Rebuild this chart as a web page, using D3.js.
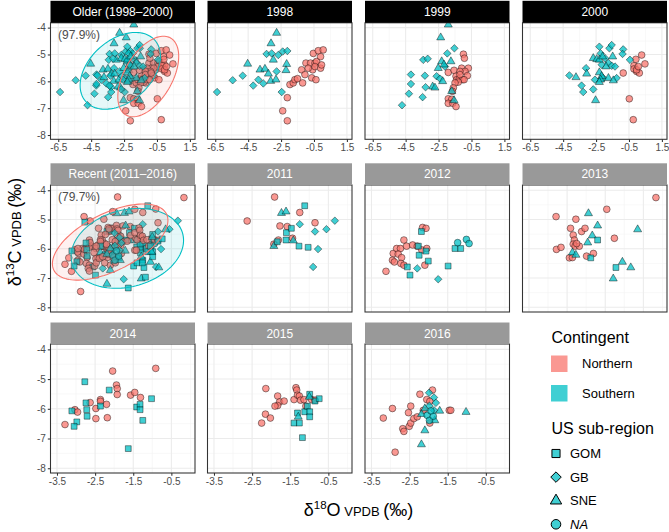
<!DOCTYPE html>
<html>
<head>
<meta charset="utf-8">
<script src="https://cdn.jsdelivr.net/npm/d3@7"></script>
<style>
  body { margin: 0; background: #fff; }
  text { font-family: "Liberation Sans", Arial, sans-serif; }
</style>
</head>
<body>
<svg id="chart" width="669" height="532"></svg>
<script>

// northern fish: [d18O, d13C]  (all shown with the NA circle)
// southern fish: [d18O, d13C, US sub-region]
const north1998 = [[-2.40,-7.10],[-2.12,-7.47],[-2.12,-6.61],[-1.96,-6.12],[-1.76,-6.06],[-1.66,-5.94],[-1.50,-5.90],[-1.25,-5.57],[-0.99,-5.32],[-0.71,-5.32],[-0.44,-5.32],[-0.34,-5.26],[-0.10,-5.08],[-0.54,-4.96],[-0.24,-4.86],[0.06,-4.83],[-0.58,-5.57],[-0.44,-5.45],[-0.10,-5.51],[-0.64,-5.87],[-0.38,-5.94],[-1.05,-5.75],[-1.19,-6.06],[-0.04,-5.39],[-0.85,-5.51]];
const south1998 = [[-6.39,-6.40,'GB'],[-5.44,-5.96,'GB'],[-4.83,-5.79,'GB'],[-4.19,-6.16,'GB'],[-3.88,-5.94,'GB'],[-3.58,-6.08,'GB'],[-3.38,-4.98,'GB'],[-3.07,-4.96,'GB'],[-2.77,-5.63,'GB'],[-2.46,-6.40,'GB'],[-2.40,-4.89,'GB'],[-2.12,-4.87,'GB'],[-2.67,-5.02,'GB'],
  [-4.53,-5.35,'SNE'],[-2.77,-4.20,'SNE'],[-3.11,-4.59,'SNE'],[-3.78,-5.57,'SNE'],[-3.48,-5.54,'SNE'],[-3.27,-5.72,'SNE'],[-3.13,-5.99,'SNE'],[-2.97,-5.20,'SNE'],[-2.81,-5.94,'SNE'],[-2.16,-5.36,'SNE'],[-2.20,-5.59,'SNE']];

const north1999 = [[-1.91,-5.67],[-1.56,-5.59],[-1.44,-5.81],[-1.10,-5.51],[-0.99,-4.99],[-0.93,-5.14],[-0.69,-5.51],[-0.89,-5.63],[-1.20,-5.63],[-0.75,-5.79],[-1.40,-5.94],[-1.24,-5.91],[-1.04,-5.94],[-0.95,-5.94],[-1.30,-6.03],[-1.50,-6.06],[-1.60,-6.24],[-1.66,-6.37],[-1.91,-6.65],[-1.70,-6.67],[-1.91,-6.82],[-1.64,-6.82],[-1.44,-6.94],[-1.20,-5.75]];
const south1999 = [[-4.72,-6.89,'GB'],[-4.30,-6.46,'GB'],[-4.18,-6.10,'GB'],[-4.18,-5.75,'GB'],[-3.47,-6.59,'GB'],[-3.33,-5.79,'GB'],[-3.43,-5.20,'GB'],[-3.16,-5.16,'GB'],[-3.29,-6.22,'GB'],[-2.62,-5.81,'GB'],[-2.41,-5.90,'GB'],[-1.97,-4.96,'GB'],[-1.54,-4.77,'GB'],[-2.11,-5.45,'GB'],
  [-2.86,-6.20,'SNE'],[-2.72,-6.24,'SNE'],[-2.52,-5.51,'SNE'],[-2.37,-4.37,'SNE'],[-1.91,-3.89,'SNE'],[-2.31,-5.26,'SNE'],[-2.17,-5.38,'SNE'],[-1.75,-5.26,'SNE'],[-2.25,-6.00,'SNE'],[-1.70,-6.37,'SNE'],[-1.56,-6.71,'SNE']];

const north2000 = [[-0.85,-5.69],[-0.48,-6.65],[-0.24,-7.43],[-0.20,-5.42],[-0.08,-5.18],[0.27,-5.02],[0.47,-5.35],[-0.20,-5.54],[-0.04,-5.63],[0.13,-5.69],[-0.04,-5.57],[0.07,-5.45]];
const south2000 = [[-4.12,-5.78,'GB'],[-3.11,-5.51,'GB'],[-3.38,-6.16,'GB'],[-3.28,-6.40,'GB'],[-2.57,-5.94,'GB'],[-2.67,-6.30,'GB'],[-2.30,-4.71,'GB'],[-2.22,-4.96,'GB'],[-2.16,-5.38,'GB'],[-2.06,-5.88,'GB'],[-1.95,-5.14,'GB'],[-1.69,-4.77,'GB'],[-1.55,-4.65,'GB'],[-1.75,-5.32,'GB'],[-1.55,-5.42,'GB'],[-1.35,-5.45,'GB'],[-1.25,-5.88,'GB'],[-0.85,-4.81,'GB'],[-0.89,-4.98,'GB'],[-0.44,-5.20,'GB'],
  [-3.72,-5.85,'SNE'],[-3.07,-5.72,'SNE'],[-2.67,-5.14,'SNE'],[-2.46,-5.18,'SNE'],[-2.30,-5.20,'SNE'],[-2.53,-6.71,'SNE'],[-2.10,-5.08,'SNE'],[-2.30,-5.67,'SNE'],[-2.16,-5.81,'SNE'],[-2.22,-5.94,'SNE'],[-2.30,-6.03,'SNE'],[-1.89,-5.45,'SNE'],[-1.49,-5.08,'SNE'],[-1.75,-5.88,'SNE'],[-1.45,-5.97,'SNE']];

const north2011 = [[-2.63,-5.05],[-1.91,-4.23],[-1.25,-4.76],[-0.85,-5.11],[-1.58,-5.24],[-1.77,-5.22],[-1.44,-5.64],[-1.81,-5.70],[-1.93,-5.84]];
const south2011 = [[-1.73,-4.78,'SNE'],[-1.61,-4.73,'SNE'],[-1.42,-5.72,'SNE'],[-1.93,-5.91,'SNE'],
  [-1.12,-4.53,'GOM'],[-1.60,-5.45,'GOM'],[-1.47,-5.30,'GOM'],[-1.61,-5.70,'GOM'],[-1.27,-5.91,'GOM'],[-1.03,-5.95,'GOM'],[-1.84,-5.76,'GOM'],
  [-1.25,-5.16,'GB'],[-0.85,-5.41,'GB'],[-0.55,-5.33,'GB'],[-0.33,-5.04,'GB'],[-0.77,-6.01,'GB'],[-0.90,-6.62,'GB']];

const north2012 = [[-3.12,-6.77],[-2.95,-6.39],[-2.90,-6.45],[-2.93,-6.16],[-2.84,-5.99],[-2.74,-5.99],[-2.80,-6.18],[-2.71,-6.30],[-2.65,-5.70],[-2.58,-5.91],[-2.42,-5.87],[-2.73,-6.50],[-2.65,-6.56],[-2.16,-5.27],[-2.07,-5.30],[-2.18,-6.04],[-2.05,-5.99],[-2.10,-6.56],[-2.30,-5.91]];
const south2012 = [[-2.19,-5.41,'GOM'],[-2.25,-6.22,'GOM'],[-2.27,-5.91,'GOM'],[-2.07,-6.08,'GOM'],[-2.01,-6.42,'GOM'],[-2.56,-6.62,'GOM'],[-2.49,-6.90,'GOM'],[-1.49,-6.59,'GOM'],[-1.31,-5.99,'GOM'],[-1.16,-5.99,'GOM'],
  [-2.30,-6.67,'GB'],[-1.75,-7.04,'GB'],
  [-1.24,-5.79,'NA'],[-1.01,-5.68,'NA'],[-0.94,-5.82,'NA']];

const north2013 = [[-2.79,-4.90],[-2.27,-4.99],[-2.41,-5.30],[-2.34,-5.53],[-2.31,-5.70],[-2.34,-5.84],[-2.29,-5.91],[-2.18,-5.91],[-2.12,-5.41],[-2.03,-5.30],[-2.78,-6.02],[-2.66,-5.95],[-2.44,-6.31],[-2.36,-6.30],[-1.99,-6.25],[-1.81,-6.16],[-1.46,-4.65],[-1.26,-5.64],[-0.17,-4.25],[-2.25,-5.82]];
const south2013 = [[-1.94,-4.79,'SNE'],[-1.70,-5.21,'SNE'],[-1.84,-5.55,'SNE'],[-1.96,-5.79,'SNE'],[-2.36,-6.13,'SNE'],[-2.27,-6.21,'SNE'],[-1.05,-6.45,'SNE'],[-0.83,-6.64,'SNE'],[-1.29,-7.02,'SNE'],[-0.65,-5.34,'SNE'],
  [-1.70,-5.70,'GOM'],[-1.88,-6.31,'GOM'],[-1.22,-6.64,'GOM']];

const north2014 = [[-3.29,-6.53],[-3.03,-6.03],[-2.96,-6.11],[-2.63,-5.79],[-2.48,-5.99],[-2.48,-6.33],[-2.36,-5.69],[-2.36,-5.75],[-2.20,-5.85],[-2.18,-6.30],[-2.04,-4.73],[-1.94,-5.20],[-1.92,-5.32],[-1.92,-5.52],[-1.57,-5.54],[-1.46,-5.45],[-1.31,-5.62],[-0.91,-4.64]];
const south2014 = [[-3.11,-6.07,'GOM'],[-2.98,-6.44,'GOM'],[-3.05,-6.59,'GOM'],[-2.77,-5.09,'GOM'],[-2.74,-5.80,'GOM'],[-2.72,-6.03,'GOM'],[-2.71,-6.25,'GOM'],[-2.36,-5.91,'GOM'],[-2.13,-5.37,'GOM'],[-1.63,-7.34,'GOM'],[-1.41,-5.94,'GOM'],[-1.32,-5.85,'GOM'],[-1.32,-6.03,'GOM'],[-1.25,-6.39,'GOM'],[-1.02,-5.66,'GOM']];

const north2015 = [[-2.14,-5.32],[-2.25,-6.48],[-2.15,-6.18],[-2.02,-6.31],[-1.83,-5.57],[-1.78,-5.77],[-1.83,-5.89],[-1.90,-5.91],[-1.66,-5.74],[-1.40,-5.69],[-1.35,-5.29],[-1.33,-5.37],[-1.31,-5.54],[-1.26,-5.57],[-1.23,-5.71],[-1.14,-5.69],[-1.09,-5.91],[-0.94,-5.69],[-0.85,-5.71]];
const south2015 = [[-1.40,-6.48,'GOM'],[-1.31,-6.14,'GOM'],[-1.26,-6.48,'GOM'],[-1.18,-6.97,'GOM'],[-1.12,-6.10,'GOM'],[-1.05,-5.91,'GOM'],[-0.99,-6.10,'GOM'],[-0.99,-6.27,'GOM'],[-0.99,-5.51,'GOM'],[-0.85,-5.74,'GOM'],[-0.74,-5.66,'GOM'],
  [-1.29,-6.27,'SNE'],[-1.00,-5.60,'SNE']];

const north2016 = [[-3.19,-6.31],[-2.95,-5.99],[-2.88,-7.46],[-2.68,-6.67],[-2.65,-6.76],[-2.51,-6.59],[-2.47,-6.48],[-2.53,-6.13],[-2.47,-5.91],[-2.39,-6.33],[-2.30,-6.27],[-2.23,-5.51],[-2.14,-6.05],[-2.05,-5.69],[-1.97,-5.75],[-1.97,-6.48],[-1.90,-5.37],[-1.46,-6.05],[-1.42,-6.05]];
const south2016 = [[-2.19,-6.18,'SNE'],[-2.10,-5.99,'SNE'],[-2.10,-6.73,'SNE'],[-2.19,-7.20,'SNE'],[-1.84,-6.39,'SNE'],[-1.71,-6.07,'SNE'],[-1.02,-6.11,'SNE'],
  [-1.99,-5.46,'GB'],[-1.98,-5.90,'GB'],[-1.86,-5.62,'GB'],[-1.81,-5.80,'GB'],[-1.86,-6.05,'GB'],
  [-2.04,-6.22,'NA'],[-1.98,-6.39,'NA'],[-1.88,-6.25,'NA'],[-1.94,-6.07,'NA']];

// 95% ellipses: [contingent, centre d18O, centre d13C, half-width, half-height, correlation]
const ellipseOlder = [['Southern', -2.73, -5.61, 2.44, 1.43, 0.38], ['Northern', -1.03, -5.82, 1.85, 1.50, 0.50]];
const ellipseRecent = [['Southern', -1.655, -5.985, 1.475, 1.365, 0.20], ['Northern', -2.105, -5.77, 1.515, 1.30, 0.57]];

const overlapLabels = ['(97.9%)', '(79.7%)'];
const contingents = ['Northern', 'Southern'];
const contingentColors = ['#F8766D', '#00BFC4'];
const regions = ['GOM', 'GB', 'SNE', 'NA'];
const xTicksOlder = [-6.5, -4.5, -2.5, -0.5, 1.5];
const xTicksRecent = [-3.5, -2.5, -1.5, -0.5];
const yTicks = [-4, -5, -6, -7, -8];

let years = {
    '1998': [north1998, south1998], '1999': [north1999, south1999], '2000': [north2000, south2000],
    '2011': [north2011, south2011], '2012': [north2012, south2012], '2013': [north2013, south2013],
    '2014': [north2014, south2014], '2015': [north2015, south2015], '2016': [north2016, south2016]
};

function yearPoints(yr) {
    let [n, s] = years[yr];
    return n.map(p => ({x: p[0], y: p[1], contingent: 'Northern', region: 'NA'}))
        .concat(s.map(p => ({x: p[0], y: p[1], contingent: 'Southern', region: p[2]})));
}

let color = d3.scaleOrdinal(contingents, contingentColors);
let shape = d3.scaleOrdinal(regions, [d3.symbolSquare, d3.symbolDiamond2, d3.symbolTriangle, d3.symbolCircle]);
let shapeSize = {GOM: 34, GB: 36, SNE: 28, NA: 36};

let svg = d3.select('#chart');

let cols = [50.5, 207.5, 365, 522.5];
let panelW = 144.5;
let rows = [
    {stripTop: 0.8, top: 22.8, bottom: 139.3, strip: '#000000', xDomain: [-6.97, 1.81], grid: xTicksOlder, xTicks: xTicksOlder},
    {stripTop: 163.3, top: 185, bottom: 312, strip: '#999999', xDomain: [-3.67, 0.12], grid: xTicksRecent, xTicks: null},
    {stripTop: 322.5, top: 344, bottom: 473, strip: '#999999', xDomain: [-3.67, 0.12], grid: xTicksRecent, xTicks: xTicksRecent}
];
let yDomain = [-8.16, -3.82];

let panels = [
    {row: 0, col: 0, title: 'Older (1998–2000)', yrs: ['1998', '1999', '2000'], ellipses: ellipseOlder, label: overlapLabels[0]},
    {row: 0, col: 1, title: '1998', yrs: ['1998']},
    {row: 0, col: 2, title: '1999', yrs: ['1999']},
    {row: 0, col: 3, title: '2000', yrs: ['2000']},
    {row: 1, col: 0, title: 'Recent (2011–2016)', yrs: ['2011', '2012', '2013', '2014', '2015', '2016'], ellipses: ellipseRecent, label: overlapLabels[1]},
    {row: 1, col: 1, title: '2011', yrs: ['2011']},
    {row: 1, col: 2, title: '2012', yrs: ['2012']},
    {row: 1, col: 3, title: '2013', yrs: ['2013']},
    {row: 2, col: 0, title: '2014', yrs: ['2014']},
    {row: 2, col: 1, title: '2015', yrs: ['2015']},
    {row: 2, col: 2, title: '2016', yrs: ['2016']}
];

function minorBreaks(ticks) {
    let step = ticks[1] - ticks[0];
    return d3.range(ticks.length + 1).map(i => ticks[0] - step / 2 + i * step);
}

function ellipsePath(e, x, y) {
    let [, cx, cy, sx, sy, r] = e;
    let delta = Math.acos(r);
    let pts = d3.range(0, 2 * Math.PI, Math.PI / 60)
        .map(t => [x(cx + sx * Math.cos(t)), y(cy + sy * Math.cos(t - delta))]);
    return d3.line().curve(d3.curveLinearClosed)(pts);
}

function gridLines(sel, data, vertical, x, y, stroke, width) {
    sel.selectAll(null)
        .data(data)
        .enter()
        .append('line')
        .attr('x1', d => vertical ? x(d) : x.range()[0])
        .attr('x2', d => vertical ? x(d) : x.range()[1])
        .attr('y1', d => vertical ? y.range()[0] : y(d))
        .attr('y2', d => vertical ? y.range()[1] : y(d))
        .attr('stroke', stroke)
        .attr('stroke-width', width);
}

function drawPanel(p) {
    let row = rows[p.row];
    let left = cols[p.col];
    let x = d3.scaleLinear().domain(row.xDomain).range([left, left + panelW]);
    let y = d3.scaleLinear().domain(yDomain).range([row.bottom, row.top]);
    let g = svg.append('g');
    let clipId = `clip${p.row}${p.col}`;

    g.append('clipPath').attr('id', clipId)
        .append('rect')
        .attr('x', left).attr('y', row.top)
        .attr('width', panelW).attr('height', row.bottom - row.top);

    let grid = g.append('g').attr('clip-path', `url(#${clipId})`);
    grid.call(gridLines, minorBreaks(row.grid), true, x, y, '#F2F2F2', 0.55)
        .call(gridLines, minorBreaks(yTicks.slice().reverse()), false, x, y, '#F2F2F2', 0.55)
        .call(gridLines, row.grid, true, x, y, '#EBEBEB', 1.07)
        .call(gridLines, yTicks, false, x, y, '#EBEBEB', 1.07);

    let pts = p.yrs.flatMap(yearPoints);
    let marks = g.append('g').attr('clip-path', `url(#${clipId})`);
    marks.selectAll('path.pt')
        .data(pts)
        .enter()
        .append('path')
        .classed('pt', true)
        .attr('transform', d => `translate(${x(d.x)},${y(d.y)})`)
        .attr('d', d => d3.symbol().type(shape(d.region)).size(shapeSize[d.region])())
        .attr('fill', d => color(d.contingent))
        .attr('fill-opacity', 0.75)
        .attr('stroke', '#000')
        .attr('stroke-opacity', 0.7)
        .attr('stroke-width', 0.6);

    if (p.ellipses) {
        marks.selectAll('path.ell')
            .data(p.ellipses)
            .enter()
            .append('path')
            .classed('ell', true)
            .attr('d', e => ellipsePath(e, x, y))
            .attr('fill', e => color(e[0]))
            .attr('fill-opacity', 0.1)
            .attr('stroke', e => color(e[0]))
            .attr('stroke-width', 1.1);

        g.append('text')
            .attr('x', left + 7.5).attr('y', row.top + 16)
            .attr('font-size', 12).attr('fill', '#4D4D4D')
            .text(p.label);
    }

    g.append('rect')
        .attr('x', left).attr('y', row.top)
        .attr('width', panelW).attr('height', row.bottom - row.top)
        .attr('fill', 'none').attr('stroke', '#333333').attr('stroke-width', 1.07);

    g.append('rect')
        .attr('x', left).attr('y', row.stripTop)
        .attr('width', panelW).attr('height', row.top - row.stripTop)
        .attr('fill', row.strip);
    g.append('text')
        .attr('x', left + panelW / 2).attr('y', (row.stripTop + row.top) / 2 + 4.3)
        .attr('text-anchor', 'middle').attr('font-size', 12).attr('fill', '#fff')
        .text(p.title);

    let styleAxis = sel => {
        sel.select('.domain').remove();
        sel.selectAll('line').attr('stroke', '#333333').attr('stroke-width', 1.07);
        sel.selectAll('text').attr('fill', '#4D4D4D').attr('font-size', 10)
            .attr('font-family', '"Liberation Sans", Arial, sans-serif');
    };

    if (row.xTicks) {
        g.append('g')
            .attr('transform', `translate(0,${row.bottom})`)
            .call(d3.axisBottom(x).tickValues(row.xTicks).tickSize(2.7).tickPadding(2).tickFormat(d => d.toFixed(1)))
            .call(styleAxis);
    }
    if (p.col === 0) {
        g.append('g')
            .attr('transform', `translate(${left},0)`)
            .call(d3.axisLeft(y).tickValues(yTicks).tickSize(2.7).tickPadding(2).tickFormat(d => String(d)))
            .call(styleAxis);
    }
}

panels.forEach(drawPanel);

// axis titles
function isotopeTitle(sel, mass, element) {
    sel.append('tspan').attr('font-size', 18).text('δ');
    sel.append('tspan').attr('font-size', 11.5).attr('dy', -7).text(mass);
    sel.append('tspan').attr('font-size', 18).attr('dy', 7).text(element);
    sel.append('tspan').attr('font-size', 13).text(' VPDB ');
    sel.append('tspan').attr('font-size', 18).text('(‰)');
}

svg.append('text')
    .attr('x', 358.5).attr('y', 516)
    .attr('text-anchor', 'middle').attr('fill', '#000')
    .call(isotopeTitle, '18', 'O');

svg.append('text')
    .attr('transform', 'translate(20.5,232) rotate(-90)')
    .attr('text-anchor', 'middle').attr('fill', '#000')
    .call(isotopeTitle, '13', 'C');

// legends
let legend = svg.append('g');
legend.append('text').attr('x', 551.5).attr('y', 343).attr('font-size', 16).text('Contingent');
contingents.forEach((c, i) => {
    legend.append('rect')
        .attr('x', 551).attr('y', 355.5 + i * 29.5)
        .attr('width', 16.5).attr('height', 16.5)
        .attr('fill', color(c)).attr('fill-opacity', 0.75);
    legend.append('text')
        .attr('x', 582).attr('y', 368 + i * 29.5)
        .attr('font-size', 13).text(c);
});

legend.append('text').attr('x', 551.5).attr('y', 434).attr('font-size', 16).text('US sub-region');
let legendSize = {GOM: 66, GB: 70, SNE: 56, NA: 72};
regions.forEach((r, i) => {
    let cy = 453.5 + i * 23.6;
    legend.append('path')
        .attr('transform', `translate(556,${cy})`)
        .attr('d', d3.symbol().type(shape(r)).size(legendSize[r])())
        .attr('fill', color('Southern')).attr('fill-opacity', 0.75)
        .attr('stroke', '#000').attr('stroke-width', 1);
    legend.append('text')
        .attr('x', 570).attr('y', cy + 4.6)
        .attr('font-size', 13)
        .attr('font-style', r === 'NA' ? 'italic' : null)
        .text(r);
});

</script>
</body>
</html>
